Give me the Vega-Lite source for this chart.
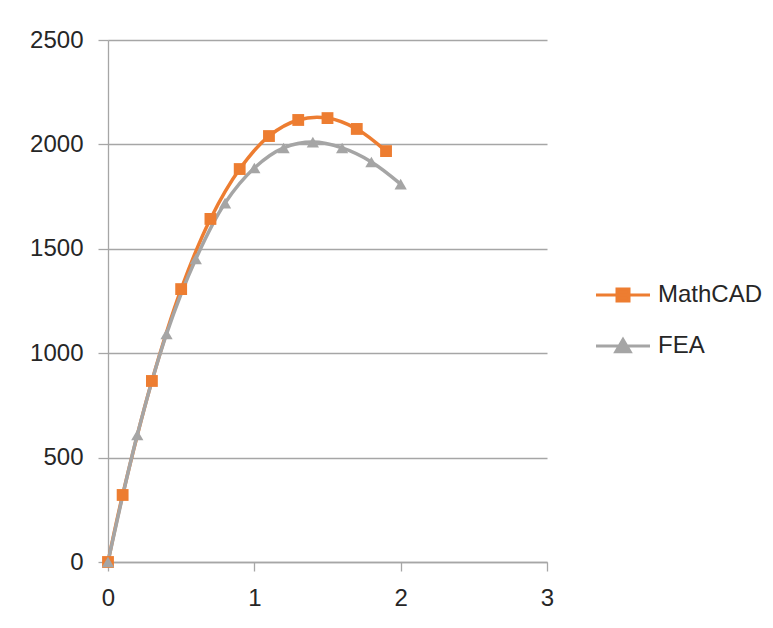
{
  "$schema": "https://vega.github.io/schema/vega-lite/v6.json",
  "autosize": {"type": "none"},
  "width": 439,
  "height": 522,
  "padding": {"left": 108, "top": 40, "right": 226, "bottom": 66},
  "background": "white",
  "config": {
    "view": {"stroke": null},
    "font": "Liberation Sans",
    "axis": {"labelFont": "Liberation Sans", "labelFontSize": 24, "labelColor": "#262626", "domainColor": "#A6A6A6", "tickColor": "#A6A6A6", "gridColor": "#A6A6A6", "domainWidth": 1.3, "tickWidth": 1.3, "gridWidth": 1.3, "title": null, "labelFlush": false},
    "legend": {"orient": "none", "legendX": 503, "legendY": 243, "labelFontSize": 24, "labelFont": "Liberation Sans", "labelColor": "#262626", "symbolSize": 144, "symbolStrokeWidth": 3, "labelOffset": 23, "rowPadding": 26, "symbolOpacity": 1}
  },
  "data": {
    "values": [
      {"series": "MathCAD", "x": 0, "y": 0},
      {"series": "MathCAD", "x": 0.1, "y": 321},
      {"series": "MathCAD", "x": 0.3, "y": 867},
      {"series": "MathCAD", "x": 0.5, "y": 1307},
      {"series": "MathCAD", "x": 0.7, "y": 1643},
      {"series": "MathCAD", "x": 0.9, "y": 1882},
      {"series": "MathCAD", "x": 1.1, "y": 2040},
      {"series": "MathCAD", "x": 1.3, "y": 2117},
      {"series": "MathCAD", "x": 1.5, "y": 2126},
      {"series": "MathCAD", "x": 1.7, "y": 2074},
      {"series": "MathCAD", "x": 1.9, "y": 1968},
      {"series": "FEA", "x": 0, "y": 0},
      {"series": "FEA", "x": 0.2, "y": 608},
      {"series": "FEA", "x": 0.4, "y": 1092},
      {"series": "FEA", "x": 0.6, "y": 1451},
      {"series": "FEA", "x": 0.8, "y": 1719},
      {"series": "FEA", "x": 1.0, "y": 1887},
      {"series": "FEA", "x": 1.2, "y": 1983},
      {"series": "FEA", "x": 1.4, "y": 2011},
      {"series": "FEA", "x": 1.6, "y": 1983},
      {"series": "FEA", "x": 1.8, "y": 1916},
      {"series": "FEA", "x": 2.0, "y": 1810}
    ]
  },
  "encoding": {
    "x": {"field": "x", "type": "quantitative", "scale": {"domain": [0, 3], "nice": false},
      "axis": {"values": [0, 1, 2, 3], "grid": false, "tickSize": 9, "labelPadding": 15, "format": "d", "labelFlush": false}},
    "y": {"field": "y", "type": "quantitative", "scale": {"domain": [0, 2500], "nice": false},
      "axis": {"values": [0, 500, 1000, 1500, 2000, 2500], "grid": true, "tickSize": 10, "labelPadding": 15, "format": "d"}},
    "color": {"field": "series", "type": "nominal", "scale": {"domain": ["MathCAD", "FEA"], "range": ["#ED7D31", "#A5A5A5"]},
      "legend": {"title": null,
        "encode": {"symbols": {"update": {
          "shape": {"signal": "datum.value === 'MathCAD' ? 'M-4.5,0H4.5M-1,-1H1V1H-1Z' : 'M-4.5,0H4.5M0,-1.1L1.2,0.95H-1.2Z'"},
          "fill": {"signal": "datum.value === 'MathCAD' ? '#ED7D31' : '#A5A5A5'"},
          "stroke": {"signal": "datum.value === 'MathCAD' ? '#ED7D31' : '#A5A5A5'"},
          "strokeWidth": {"value": 3},
          "size": {"value": 144},
          "opacity": {"value": 1}}}}}}
  },
  "layer": [
    {
      "mark": {"type": "line", "interpolate": "catmull-rom", "strokeWidth": 3.5}
    },
    {
      "transform": [{"filter": "datum.series === 'MathCAD'"}],
      "mark": {"type": "point", "filled": true, "opacity": 1, "size": 140, "shape": "square"}
    },
    {
      "transform": [{"filter": "datum.series === 'FEA'"}],
      "mark": {"type": "point", "filled": true, "opacity": 1, "size": 150, "shape": "triangle-up"}
    }
  ]
}
